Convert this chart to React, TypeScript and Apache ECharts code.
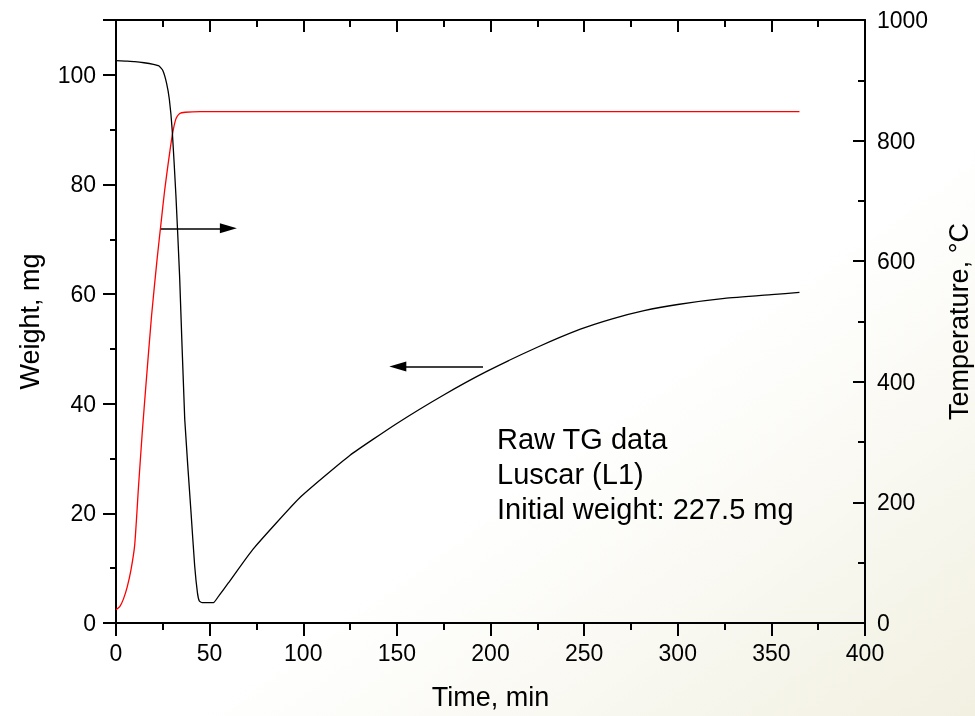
import React, { useEffect, useRef } from "react";
import * as echarts from "echarts";

// Weight (mg) vs time (min)
const weightTime = [0, 5, 10, 15, 20, 23, 25, 27, 28.5, 30, 32, 34, 36.7, 40, 42, 43.5, 44.5, 46, 48, 52, 55, 60, 73, 98, 125, 150, 175, 198, 225, 248, 265, 282, 300, 325, 350, 365];
const weightValues = [102.6, 102.5, 102.4, 102.2, 101.9, 101.6, 100.8, 98.5, 95.5, 90, 78, 63, 37.2, 20.5, 10.5, 5.5, 4.0, 3.7, 3.7, 3.7, 5.0, 7.3, 13.4, 22.8, 30.6, 36.4, 41.6, 45.9, 50.3, 53.6, 55.5, 57.0, 58.1, 59.2, 59.9, 60.3];

// Temperature (°C) vs time (min)
const tempTime = [0, 2, 4, 6, 8, 10, 12, 14, 16, 19, 22, 24, 26, 28, 30, 32, 34, 37, 45, 53, 60, 100, 150, 200, 250, 300, 365];
const tempValues = [22, 27, 40, 60, 88, 130, 225, 315, 395, 510, 605, 662, 718, 765, 808, 836, 845, 847, 848, 848, 848, 848, 848, 848, 848, 848, 848];

const xTicks = { min: 0, max: 400, interval: 50 };
const weightAxis = { min: 0, max: 110, interval: 20 };
const tempAxis = { min: 0, max: 1000, interval: 200 };

// Arrow annotations [fromTime, fromWeight, toTime, toWeight]
const arrows = [
  [24, 72, 60, 72],
  [196, 46.8, 150.5, 46.8],
];

const noteLines = ["Raw TG data", "Luscar (L1)", "Initial weight: 227.5 mg"];

const FONT = "'Liberation Sans', Arial, Helvetica, sans-serif";

export default function App() {
  const ref = useRef<HTMLDivElement>(null);

  useEffect(() => {
    if (!ref.current) return;
    const chart = echarts.init(ref.current, undefined, { renderer: "svg" });
    const axisLine = { show: true, onZero: false, lineStyle: { color: "#000", width: 2 } };
    const labelStyle = { color: "#000", fontSize: 23, fontFamily: FONT };
    const nameStyle = { color: "#000", fontSize: 27, fontFamily: FONT };
    const fmt = (v: number) => String(v);

    chart.setOption({
      animation: false,
      backgroundColor: "transparent",
      graphic: [
        {
          type: "rect",
          z: -100,
          silent: true,
          shape: { x: 0, y: 0, width: 975, height: 716 },
          style: {
            fill: new echarts.graphic.LinearGradient(0, 0, 1, 1, [
              { offset: 0, color: "#ffffff" },
              { offset: 0.6, color: "#ffffff" },
              { offset: 1, color: "#f2f0e1" },
            ]),
          },
        },
        ...noteLines.map((t, i) => ({
          type: "text",
          left: 497,
          top: 424 + i * 35,
          z: 10,
          style: { text: t, fontSize: 29, fontFamily: FONT, fill: "#000" },
        })),
      ],
      grid: {
        left: 116,
        right: 110,
        top: 20,
        bottom: 93,
        containLabel: false,
        outerBoundsMode: "none",
      },
      xAxis: [
        {
          type: "value",
          position: "bottom",
          ...xTicks,
          name: "Time, min",
          nameLocation: "middle",
          nameGap: 60,
          nameTextStyle: nameStyle,
          axisLine,
          axisTick: { show: true, length: 13, lineStyle: { color: "#000", width: 2 } },
          minorTick: { show: true, splitNumber: 2, length: 7, lineStyle: { color: "#000", width: 2 } },
          axisLabel: { ...labelStyle, margin: 18, formatter: fmt },
          splitLine: { show: false },
          minorSplitLine: { show: false },
        },
        {
          type: "value",
          position: "top",
          ...xTicks,
          axisLine,
          axisTick: { show: true, inside: true, length: 12, lineStyle: { color: "#000", width: 2 } },
          minorTick: { show: true, splitNumber: 2, length: 7, lineStyle: { color: "#000", width: 2 } },
          axisLabel: { show: false },
          splitLine: { show: false },
        },
      ],
      yAxis: [
        {
          type: "value",
          position: "left",
          ...weightAxis,
          name: "Weight, mg",
          nameLocation: "middle",
          nameGap: 73,
          nameTextStyle: nameStyle,
          axisLine,
          axisTick: { show: true, length: 13, lineStyle: { color: "#000", width: 2 } },
          minorTick: { show: true, splitNumber: 2, length: 6, lineStyle: { color: "#000", width: 2 } },
          axisLabel: {
            ...labelStyle,
            margin: 20,
            formatter: (v: number) => (v > 100 ? "" : String(v)),
          },
          splitLine: { show: false },
        },
        {
          type: "value",
          position: "right",
          ...tempAxis,
          name: "Temperature, °C",
          nameLocation: "middle",
          nameGap: 80,
          nameTextStyle: nameStyle,
          axisLine,
          axisTick: { show: true, inside: true, length: 12, lineStyle: { color: "#000", width: 2 } },
          minorTick: { show: true, splitNumber: 2, length: 7, lineStyle: { color: "#000", width: 2 } },
          axisLabel: { ...labelStyle, margin: 12, formatter: fmt },
          splitLine: { show: false },
        },
      ],
      series: [
        {
          type: "line",
          name: "Weight",
          xAxisIndex: 0,
          yAxisIndex: 0,
          data: weightTime.map((t, i) => [t, weightValues[i]]),
          showSymbol: false,
          smooth: 0.15,
          lineStyle: { color: "#000", width: 1.3 },
          z: 3,
          markLine: {
            silent: true,
            symbol: ["none", "triangle"],
            symbolSize: [10, 17],
            label: { show: false },
            lineStyle: { color: "#000", width: 1.5, type: "solid" },
            data: arrows.map((a) => [
              { coord: [a[0], a[1]] },
              { coord: [a[2], a[3]] },
            ]),
          },
        },
        {
          type: "line",
          name: "Temperature",
          xAxisIndex: 0,
          yAxisIndex: 1,
          data: tempTime.map((t, i) => [t, tempValues[i]]),
          showSymbol: false,
          smooth: 0.2,
          lineStyle: { color: "#ff0000", width: 1.3 },
          z: 2,
        },
      ],
    });
    return () => chart.dispose();
  }, []);

  return (
    <div
      ref={ref}
      style={{ position: "fixed", left: 0, top: 0, width: 975, height: 716 }}
    />
  );
}
